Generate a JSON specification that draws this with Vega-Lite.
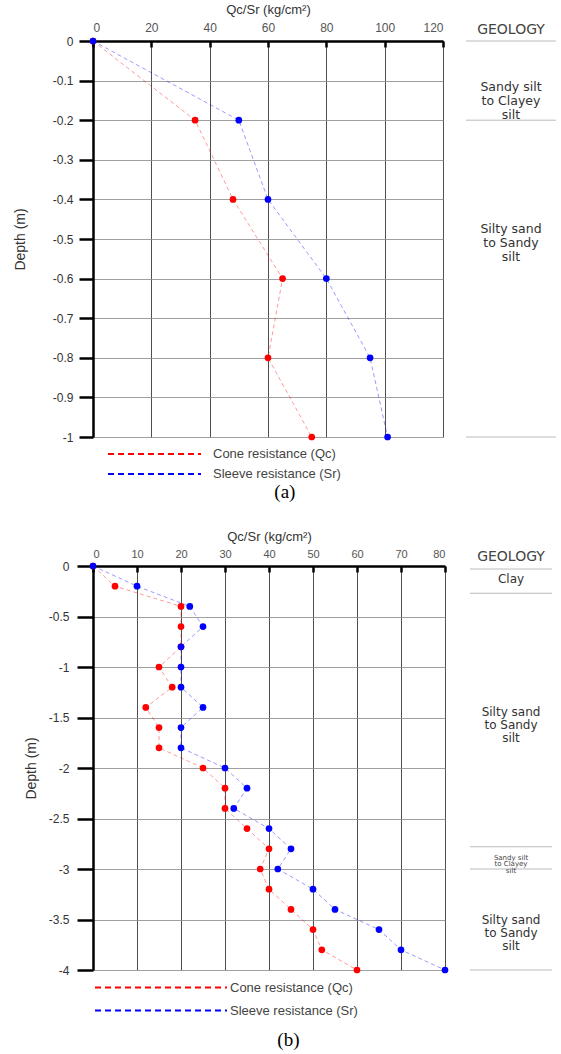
{
  "$schema": "https://vega.github.io/schema/vega-lite/v6.json",
  "background": "white",
  "padding": {"left": 13, "top": 3, "right": 0, "bottom": 0},
  "config": {
    "view": {"stroke": null},
    "font": "Liberation Sans",
    "title": {"fontWeight": "normal"}
  },
  "spacing": 28,
  "resolve": {"scale": {"color": "independent"}, "legend": {"color": "independent"}},
  "vconcat": [
    {
      "title": {"text": "(a)", "orient": "bottom", "anchor": "middle", "font": "Liberation Serif", "fontSize": 19, "fontWeight": "normal", "color": "#000", "offset": 2},
      "bounds": "flush",
      "spacing": 23,
      "resolve": {"scale": {"color": "independent"}, "legend": {"color": "independent"}},
      "hconcat": [
        {
          "width": 350,
          "height": 396,
          "data": {"values": [
            {"series": "Cone resistance (Qc)", "depth": 0, "value": 0},
            {"series": "Cone resistance (Qc)", "depth": -0.2, "value": 35},
            {"series": "Cone resistance (Qc)", "depth": -0.4, "value": 48},
            {"series": "Cone resistance (Qc)", "depth": -0.6, "value": 65},
            {"series": "Cone resistance (Qc)", "depth": -0.8, "value": 60},
            {"series": "Cone resistance (Qc)", "depth": -1, "value": 75},
            {"series": "Sleeve resistance (Sr)", "depth": 0, "value": 0},
            {"series": "Sleeve resistance (Sr)", "depth": -0.2, "value": 50},
            {"series": "Sleeve resistance (Sr)", "depth": -0.4, "value": 60},
            {"series": "Sleeve resistance (Sr)", "depth": -0.6, "value": 80},
            {"series": "Sleeve resistance (Sr)", "depth": -0.8, "value": 95},
            {"series": "Sleeve resistance (Sr)", "depth": -1, "value": 101}
          ]},
          "encoding": {
            "x": {
              "field": "value", "type": "quantitative",
              "scale": {"domain": [0, 120], "nice": false},
              "axis": {
                "orient": "top", "title": "Qc/Sr (kg/cm²)", "values": [0, 20, 40, 60, 80, 100, 120],
                "domainColor": "#000", "domainWidth": 2.5,
                "tickColor": "#000", "tickWidth": 2.5, "tickSize": -6,
                "labelPadding": 13, "labelFontSize": 12, "labelColor": "#555",
                "titleFontSize": 13, "titleFontWeight": "normal", "titleColor": "#333", "titlePadding": 5,
                "grid": true, "gridColor": "#222", "gridWidth": 0.8, "gridOpacity": 1
              }
            },
            "y": {
              "field": "depth", "type": "quantitative",
              "scale": {"domain": [-1, 0], "nice": false, "zero": false},
              "axis": {
                "title": "Depth (m)", "values": [0, -0.1, -0.2, -0.3, -0.4, -0.5, -0.6, -0.7, -0.8, -0.9, -1],
                "labelExpr": "datum.value == 0 ? '0' : '-' + format(-datum.value, '')",
                "domainColor": "#000", "domainWidth": 2.5,
                "tickColor": "#000", "tickWidth": 2.5, "tickSize": 14,
                "labelPadding": 6, "labelFontSize": 12, "labelColor": "#333",
                "titleFontSize": 14, "titleFontWeight": "normal", "titleColor": "#333", "titlePadding": 25,
                "grid": true, "gridColor": "#888", "gridWidth": 0.8, "gridOpacity": 1
              }
            },
            "color": {
              "field": "series", "type": "nominal",
              "scale": {"domain": ["Cone resistance (Qc)", "Sleeve resistance (Sr)"], "range": ["#ff0000", "#0000ff"]},
              "legend": {
                "orient": "bottom", "direction": "vertical", "title": null,
                "symbolType": "M0.556,0H10.889", "symbolSize": 324, "symbolStrokeWidth": 2, "symbolDash": [6, 4], "symbolOpacity": 1,
                "labelFontSize": 13, "labelColor": "#444", "labelOffset": 100, "labelLimit": 400,
                "rowPadding": 3, "offset": 5
              }
            }
          },
          "layer": [
            {
              "mark": {"type": "line", "strokeDash": [4, 3], "strokeWidth": 0.8, "opacity": 0.5},
              "encoding": {"order": {"field": "depth", "sort": "descending"}}
            },
            {
              "mark": {"type": "point", "filled": true, "size": 45, "opacity": 1}
            }
          ]
        },
        {
          "width": 90,
          "height": 396,
          "title": {"text": "GEOLOGY", "fontSize": 14, "font": "DejaVu Sans", "fontWeight": "normal", "color": "#444", "offset": 4},
          "layer": [
            {
              "data": {"values": [{"boundary": 0}, {"boundary": -0.2}, {"boundary": -1}]},
              "mark": {"type": "rule", "color": "#bbb", "strokeWidth": 1},
              "encoding": {
                "y": {"field": "boundary", "type": "quantitative", "scale": {"domain": [-1, 0], "nice": false, "zero": false}, "axis": null}
              }
            },
            {
              "data": {"values": [
                {"label": "Sandy silt\nto Clayey\nsilt", "depth": -0.115},
                {"label": "Silty sand\nto Sandy\nsilt", "depth": -0.475}
              ]},
              "mark": {"type": "text", "lineBreak": "\n", "fontSize": 12.5, "color": "#333", "lineHeight": 14, "font": "DejaVu Sans"},
              "encoding": {
                "y": {"field": "depth", "type": "quantitative", "axis": null},
                "text": {"field": "label", "type": "nominal"}
              }
            }
          ]
        }
      ]
    },
    {
      "title": {"text": "(b)", "orient": "bottom", "anchor": "middle", "font": "Liberation Serif", "fontSize": 19, "fontWeight": "normal", "color": "#000", "offset": 13},
      "bounds": "flush",
      "spacing": 25,
      "resolve": {"scale": {"color": "independent"}, "legend": {"color": "independent"}},
      "hconcat": [
        {
          "width": 352,
          "height": 404,
          "data": {"values": [
            {"series": "Cone resistance (Qc)", "depth": 0, "value": 0},
            {"series": "Cone resistance (Qc)", "depth": -0.2, "value": 5},
            {"series": "Cone resistance (Qc)", "depth": -0.4, "value": 20},
            {"series": "Cone resistance (Qc)", "depth": -0.6, "value": 20},
            {"series": "Cone resistance (Qc)", "depth": -0.8, "value": 20},
            {"series": "Cone resistance (Qc)", "depth": -1.0, "value": 15},
            {"series": "Cone resistance (Qc)", "depth": -1.2, "value": 18},
            {"series": "Cone resistance (Qc)", "depth": -1.4, "value": 12},
            {"series": "Cone resistance (Qc)", "depth": -1.6, "value": 15},
            {"series": "Cone resistance (Qc)", "depth": -1.8, "value": 15},
            {"series": "Cone resistance (Qc)", "depth": -2.0, "value": 25},
            {"series": "Cone resistance (Qc)", "depth": -2.2, "value": 30},
            {"series": "Cone resistance (Qc)", "depth": -2.4, "value": 30},
            {"series": "Cone resistance (Qc)", "depth": -2.6, "value": 35},
            {"series": "Cone resistance (Qc)", "depth": -2.8, "value": 40},
            {"series": "Cone resistance (Qc)", "depth": -3.0, "value": 38},
            {"series": "Cone resistance (Qc)", "depth": -3.2, "value": 40},
            {"series": "Cone resistance (Qc)", "depth": -3.4, "value": 45},
            {"series": "Cone resistance (Qc)", "depth": -3.6, "value": 50},
            {"series": "Cone resistance (Qc)", "depth": -3.8, "value": 52},
            {"series": "Cone resistance (Qc)", "depth": -4.0, "value": 60},
            {"series": "Sleeve resistance (Sr)", "depth": 0, "value": 0},
            {"series": "Sleeve resistance (Sr)", "depth": -0.2, "value": 10},
            {"series": "Sleeve resistance (Sr)", "depth": -0.4, "value": 22},
            {"series": "Sleeve resistance (Sr)", "depth": -0.6, "value": 25},
            {"series": "Sleeve resistance (Sr)", "depth": -0.8, "value": 20},
            {"series": "Sleeve resistance (Sr)", "depth": -1.0, "value": 20},
            {"series": "Sleeve resistance (Sr)", "depth": -1.2, "value": 20},
            {"series": "Sleeve resistance (Sr)", "depth": -1.4, "value": 25},
            {"series": "Sleeve resistance (Sr)", "depth": -1.6, "value": 20},
            {"series": "Sleeve resistance (Sr)", "depth": -1.8, "value": 20},
            {"series": "Sleeve resistance (Sr)", "depth": -2.0, "value": 30},
            {"series": "Sleeve resistance (Sr)", "depth": -2.2, "value": 35},
            {"series": "Sleeve resistance (Sr)", "depth": -2.4, "value": 32},
            {"series": "Sleeve resistance (Sr)", "depth": -2.6, "value": 40},
            {"series": "Sleeve resistance (Sr)", "depth": -2.8, "value": 45},
            {"series": "Sleeve resistance (Sr)", "depth": -3.0, "value": 42},
            {"series": "Sleeve resistance (Sr)", "depth": -3.2, "value": 50},
            {"series": "Sleeve resistance (Sr)", "depth": -3.4, "value": 55},
            {"series": "Sleeve resistance (Sr)", "depth": -3.6, "value": 65},
            {"series": "Sleeve resistance (Sr)", "depth": -3.8, "value": 70},
            {"series": "Sleeve resistance (Sr)", "depth": -4.0, "value": 80}
          ]},
          "encoding": {
            "x": {
              "field": "value", "type": "quantitative",
              "scale": {"domain": [0, 80], "nice": false},
              "axis": {
                "orient": "top", "title": "Qc/Sr (kg/cm²)", "values": [0, 10, 20, 30, 40, 50, 60, 70, 80],
                "domainColor": "#000", "domainWidth": 2.5,
                "tickColor": "#000", "tickWidth": 2.5, "tickSize": -6,
                "labelPadding": 13, "labelFontSize": 11, "labelColor": "#555",
                "titleFontSize": 13, "titleFontWeight": "normal", "titleColor": "#333", "titlePadding": 5,
                "grid": true, "gridColor": "#222", "gridWidth": 0.8, "gridOpacity": 1
              }
            },
            "y": {
              "field": "depth", "type": "quantitative",
              "scale": {"domain": [-4, 0], "nice": false, "zero": false},
              "axis": {
                "title": "Depth (m)", "values": [0, -0.5, -1, -1.5, -2, -2.5, -3, -3.5, -4],
                "labelExpr": "datum.value == 0 ? '0' : '-' + format(-datum.value, '')",
                "domainColor": "#000", "domainWidth": 2.5,
                "tickColor": "#000", "tickWidth": 2.5, "tickSize": 16,
                "labelPadding": 8, "labelFontSize": 12, "labelColor": "#333",
                "titleFontSize": 14, "titleFontWeight": "normal", "titleColor": "#333", "titlePadding": 10,
                "grid": true, "gridColor": "#888", "gridWidth": 0.8, "gridOpacity": 1
              }
            },
            "color": {
              "field": "series", "type": "nominal",
              "scale": {"domain": ["Cone resistance (Qc)", "Sleeve resistance (Sr)"], "range": ["#ff0000", "#0000ff"]},
              "legend": {
                "orient": "bottom", "direction": "vertical", "title": null,
                "symbolType": "M-0.913,0H10.565", "symbolSize": 529, "symbolStrokeWidth": 2, "symbolDash": [6, 4], "symbolOpacity": 1,
                "labelFontSize": 13, "labelColor": "#444", "labelOffset": 112, "labelLimit": 400,
                "rowPadding": 3, "offset": 3
              }
            }
          },
          "layer": [
            {
              "mark": {"type": "line", "strokeDash": [4, 3], "strokeWidth": 0.8, "opacity": 0.5},
              "encoding": {"order": {"field": "depth", "sort": "descending"}}
            },
            {
              "mark": {"type": "point", "filled": true, "size": 45, "opacity": 1}
            }
          ]
        },
        {
          "width": 82,
          "height": 404,
          "title": {"text": "GEOLOGY", "fontSize": 14, "font": "DejaVu Sans", "fontWeight": "normal", "color": "#444", "offset": 2},
          "layer": [
            {
              "data": {"values": [{"boundary": -0.03}, {"boundary": -0.27}, {"boundary": -2.78}, {"boundary": -3.0}, {"boundary": -4}]},
              "mark": {"type": "rule", "color": "#bbb", "strokeWidth": 1},
              "encoding": {
                "y": {"field": "boundary", "type": "quantitative", "scale": {"domain": [-4, 0], "nice": false, "zero": false}, "axis": null}
              }
            },
            {
              "data": {"values": [
                {"label": "Clay", "depth": -0.13},
                {"label": "Silty sand\nto Sandy\nsilt", "depth": -1.45},
                {"label": "Silty sand\nto Sandy\nsilt", "depth": -3.5}
              ]},
              "mark": {"type": "text", "lineBreak": "\n", "fontSize": 12, "color": "#333", "lineHeight": 13, "font": "DejaVu Sans"},
              "encoding": {
                "y": {"field": "depth", "type": "quantitative", "axis": null},
                "text": {"field": "label", "type": "nominal"}
              }
            },
            {
              "data": {"values": [
                {"label": "Sandy silt\nto Clayey\nsilt", "depth": -2.89}
              ]},
              "mark": {"type": "text", "lineBreak": "\n", "fontSize": 7, "color": "#444", "lineHeight": 6.5, "font": "DejaVu Sans"},
              "encoding": {
                "y": {"field": "depth", "type": "quantitative", "axis": null},
                "text": {"field": "label", "type": "nominal"}
              }
            }
          ]
        }
      ]
    }
  ]
}
